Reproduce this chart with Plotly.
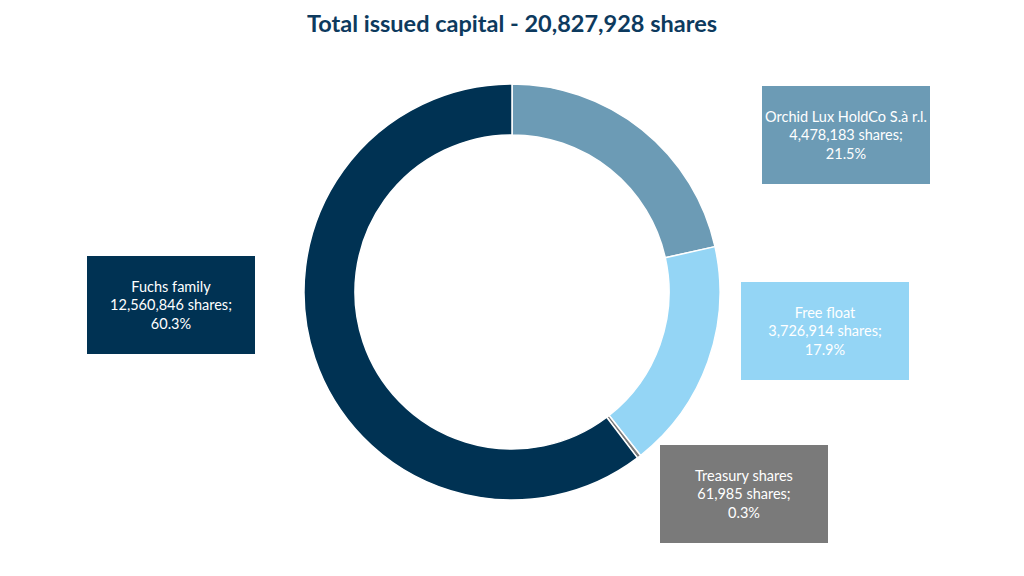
import plotly.graph_objects as go

# shareholder structure
labels = ["Orchid Lux HoldCo S.à r.l.", "Free float", "Treasury shares", "Fuchs family"]
shares = [4478183, 3726914, 61985, 12560846]
percents = ["21.5%", "17.9%", "0.3%", "60.3%"]
colors = ["#6c9bb5", "#94d5f5", "#7a7a7a", "#003253"]
total_shares = "20,827,928"

# page has an 8px body margin, so the figure is drawn 8px in
OFF = 8
W, H = 1024 - 2 * OFF, 576 - 2 * OFF


def px(x):
    return (x - OFF) / W


def py(y):
    return 1 - (y - OFF) / H


# box centres in screen pixels (x, y from top)
box_pos = [(846, 135), (825, 331), (744, 494), (171, 305)]
box_w, box_h = 168, 98

fig = go.Figure()
fig.add_trace(go.Pie(
    labels=labels, values=shares, sort=False, direction="clockwise", rotation=0,
    hole=0.755, textinfo="none", hoverinfo="label+value+percent",
    marker=dict(colors=colors, line=dict(color="white", width=1.5)),
    domain=dict(x=[px(304), px(720)], y=[py(500), py(84)]),
    showlegend=False,
))

for lab, val, pct, col, (bx, by) in zip(labels, shares, percents, colors, box_pos):
    fig.add_annotation(
        xref="paper", yref="paper", x=px(bx), y=py(by),
        xanchor="center", yanchor="middle", showarrow=False,
        text=f"{lab}<br>{val:,} shares;<br>{pct}",
        width=box_w, height=box_h, bgcolor=col, borderpad=0, borderwidth=0,
        font=dict(family="Lato", size=14.5, color="white"), align="center",
    )

fig.update_layout(
    width=W, height=H,
    margin=dict(l=0, r=0, t=0, b=0),
    paper_bgcolor="white", plot_bgcolor="white",
    title=dict(text=f"<b>Total issued capital - {total_shares} shares</b>",
               x=px(512), xanchor="center", y=py(24), yanchor="middle",
               font=dict(family="Lato", size=23.5, color="#0d3a5e")),
)
fig.write_html("out.html")
